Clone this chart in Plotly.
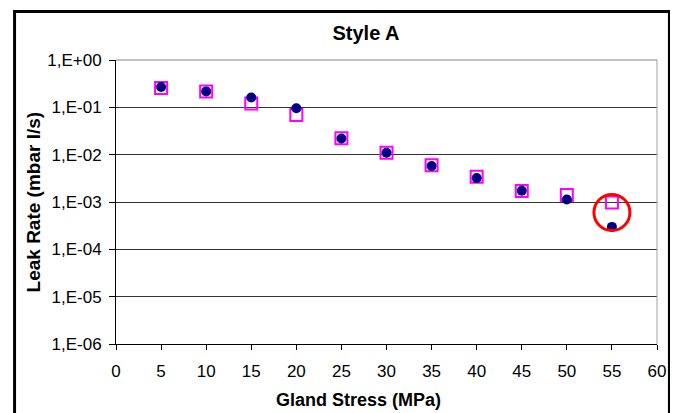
import plotly.graph_objects as go

# Data
stress = [5, 10, 15, 20, 25, 30, 35, 40, 45, 50, 55]
leak_circles = [0.27, 0.217, 0.162, 0.096, 0.0219, 0.011, 0.00575, 0.0032, 0.00173, 0.00113, 0.000298]
leak_squares = [0.255, 0.215, 0.121, 0.069, 0.0222, 0.011, 0.00594, 0.00342, 0.0017, 0.0014, 0.00098]
highlight_x = [55]
highlight_y = [0.0006]

y_tickvals = [1e0, 1e-1, 1e-2, 1e-3, 1e-4, 1e-5, 1e-6]
y_ticktext = ["1,E+00", "1,E-01", "1,E-02", "1,E-03", "1,E-04", "1,E-05", "1,E-06"]
x_tickvals = [0, 5, 10, 15, 20, 25, 30, 35, 40, 45, 50, 55, 60]

FONT = "Liberation Sans, Arial, sans-serif"
OFF = 8  # page body margin offset
W, H = 678 - OFF, 413 - OFF
L, T, PW, PH = 116 - OFF, 60 - OFF, 544, 284


def px_x(p):
    return (p - OFF - L) / PW


def px_y(p):
    return (T + PH - (p - OFF)) / PH


fig = go.Figure()
fig.add_trace(go.Scatter(
    x=stress, y=leak_squares, mode="markers",
    marker=dict(symbol="square-open", size=12, color="#FF00FF", line=dict(width=2, color="#FF00FF")),
    showlegend=False, hoverinfo="x+y"))
fig.add_trace(go.Scatter(
    x=stress, y=leak_circles, mode="markers",
    marker=dict(symbol="circle", size=10, color="#000080"),
    showlegend=False, hoverinfo="x+y"))
fig.add_trace(go.Scatter(
    x=highlight_x, y=highlight_y, mode="markers",
    marker=dict(symbol="circle-open", size=36, color="#FF0000", line=dict(width=3, color="#FF0000")),
    showlegend=False, hoverinfo="skip"))

fig.update_layout(
    width=W, height=H,
    margin=dict(l=L, r=W - L - PW, t=T, b=H - T - PH, pad=0),
    paper_bgcolor="white", plot_bgcolor="white",
    font=dict(family=FONT, color="black", size=17),
    title=dict(text="<b>Style A</b>", x=(366 - OFF) / W, xref="container", xanchor="center",
               y=1 - (33 - OFF) / H, yref="container", yanchor="middle",
               font=dict(family=FONT, size=20, color="black")),
    xaxis=dict(range=[0, 60], tickvals=x_tickvals, showgrid=False, zeroline=False,
               showline=True, linecolor="black", linewidth=1,
               ticks="outside", ticklen=5, tickcolor="black", ticklabelstandoff=7,
               tickfont=dict(family=FONT, size=17, color="black")),
    yaxis=dict(type="log", range=[-6, 0], tickvals=y_tickvals, ticktext=y_ticktext,
               showgrid=True, gridcolor="#333333", gridwidth=1, zeroline=False,
               showline=True, linecolor="black", linewidth=1,
               ticks="outside", ticklen=6, tickcolor="black", ticklabelstandoff=4,
               tickfont=dict(family=FONT, size=17, color="black")),
    annotations=[
        dict(text="<b>Gland Stress (MPa)</b>", xref="paper", yref="paper",
             x=px_x(360), y=px_y(400), xanchor="center", yanchor="middle",
             showarrow=False, font=dict(family=FONT, size=18, color="black")),
        dict(text="<b>Leak Rate (mbar l/s)</b>", xref="paper", yref="paper",
             x=px_x(33), y=0.5, xanchor="center", yanchor="middle", textangle=-90,
             showarrow=False, font=dict(family=FONT, size=19, color="black")),
    ],
    shapes=[
        dict(type="line", xref="paper", yref="paper", x0=1, x1=1, y0=0, y1=1,
             line=dict(color="#A0A0A0", width=1)),
        dict(type="line", xref="paper", yref="paper", x0=0, x1=1, y0=1, y1=1,
             line=dict(color="#808080", width=1)),
        dict(type="rect", xref="paper", yref="paper",
             x0=px_x(14), x1=px_x(672.5),
             y0=px_y(440), y1=px_y(11.5),
             line=dict(color="black", width=3), fillcolor="rgba(0,0,0,0)", layer="above"),
    ],
)

fig.write_html("out.html")
